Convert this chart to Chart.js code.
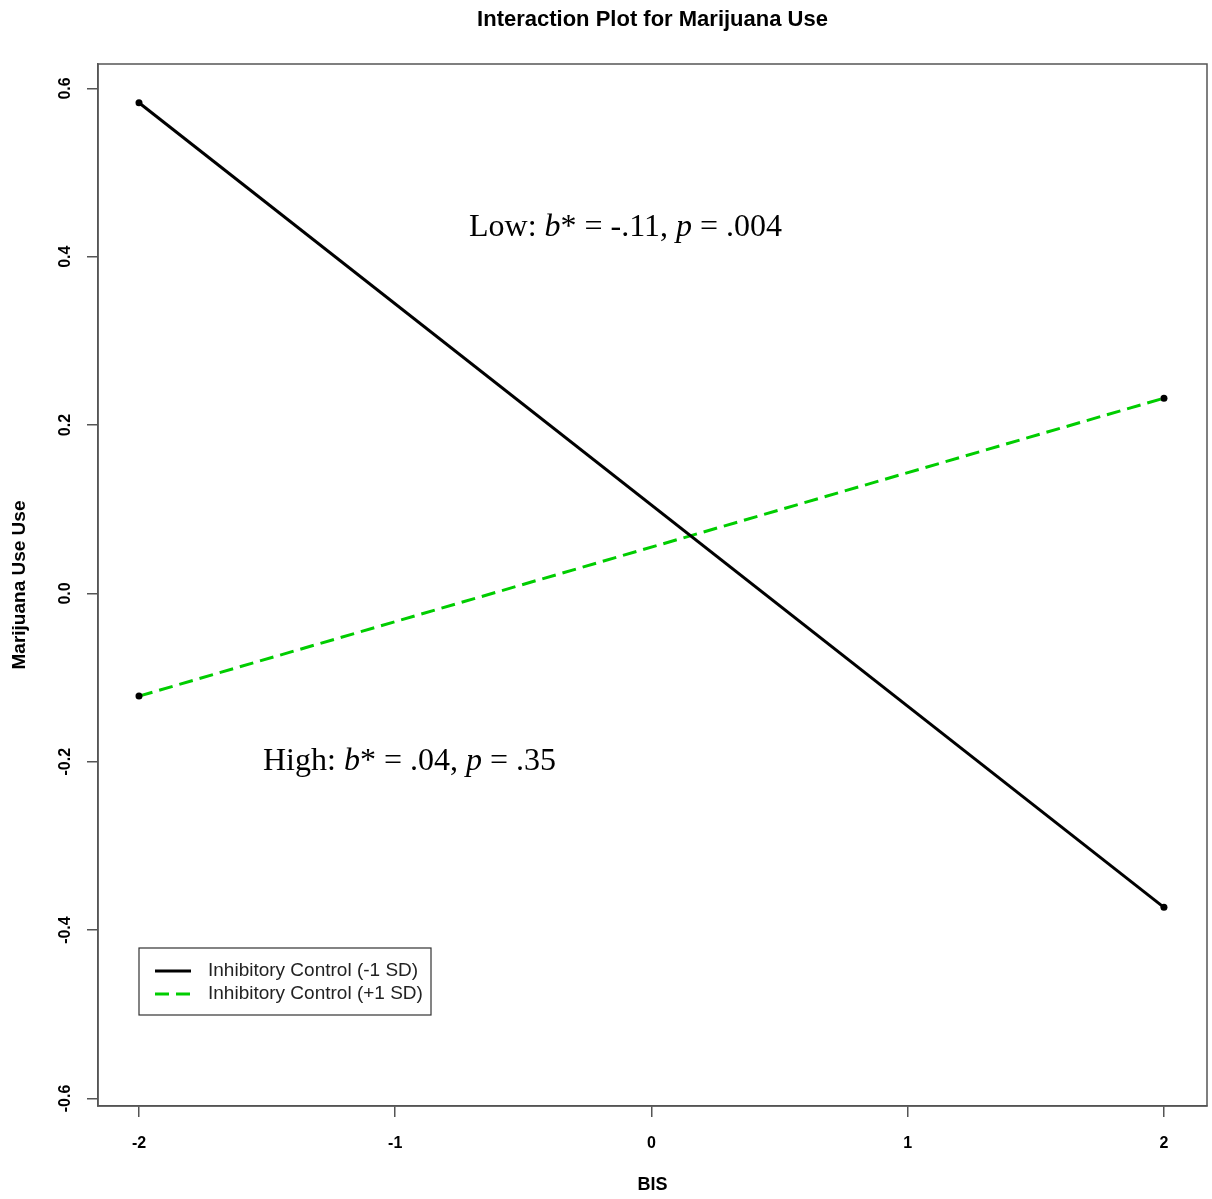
<!DOCTYPE html>
<html>
<head>
<meta charset="utf-8">
<script src="https://cdn.jsdelivr.net/npm/chart.js@4.4.0/dist/chart.umd.min.js"></script>
<style>
html,body{margin:0;padding:0;background:#fff;}
#wrap{width:1212px;height:1199px;position:relative;}
</style>
</head>
<body>
<div id="wrap"><canvas id="c" width="1212" height="1199"></canvas></div>
<script>
// ---- data ----
const bisValues = [-2, 2];
const lowIC = [0.583, -0.373];   // Inhibitory Control (-1 SD)
const highIC = [-0.122, 0.232];  // Inhibitory Control (+1 SD)
const xTicks = [-2, -1, 0, 1, 2];
const yTicks = [-0.6, -0.4, -0.2, 0.0, 0.2, 0.4, 0.6];
const yTickLabels = ['-0.6', '-0.4', '-0.2', '0.0', '0.2', '0.4', '0.6'];
const seriesNames = ['Inhibitory Control (-1 SD)', 'Inhibitory Control (+1 SD)'];
const titleText = 'Interaction Plot for Marijuana Use';
const xTitle = 'BIS';
const yTitle = 'Marijuana Use Use';

const SANS = '"Liberation Sans", Arial, Helvetica, sans-serif';
const SERIF = '"Liberation Serif", "Times New Roman", serif';
const AXIS_COLOR = '#555';

const extras = {
  id: 'extras',
  afterDraw(chart) {
    const ctx = chart.ctx;
    const a = chart.chartArea;
    const ys = chart.scales.y;
    ctx.save();
    // box
    ctx.strokeStyle = AXIS_COLOR;
    ctx.lineWidth = 1.5;
    ctx.strokeRect(a.left, a.top, a.right - a.left, a.bottom - a.top);
    // title
    ctx.fillStyle = '#000';
    ctx.font = 'bold 22px ' + SANS;
    ctx.textAlign = 'center';
    ctx.textBaseline = 'middle';
    ctx.fillText(titleText, (a.left + a.right) / 2, 20);
    // x title
    ctx.font = 'bold 18px ' + SANS;
    ctx.fillText(xTitle, (a.left + a.right) / 2, 1185);
    // y title
    ctx.save();
    ctx.translate(20, (a.top + a.bottom) / 2);
    ctx.rotate(-Math.PI / 2);
    ctx.font = 'bold 19px ' + SANS;
    ctx.fillText(yTitle, 0, 0);
    ctx.restore();
    // y tick labels rotated
    ctx.font = 'bold 16px ' + SANS;
    yTicks.forEach((v, i) => {
      const py = ys.getPixelForValue(v);
      ctx.save();
      ctx.translate(66, py);
      ctx.rotate(-Math.PI / 2);
      ctx.fillText(yTickLabels[i], 0, 0);
      ctx.restore();
    });
    // annotations
    function rich(parts, x, y) {
      let cx = x;
      parts.forEach(p => {
        ctx.font = (p[1] ? 'italic ' : '') + '32px ' + SERIF;
        ctx.textAlign = 'left';
        ctx.textBaseline = 'middle';
        ctx.fillText(p[0], cx, y);
        cx += ctx.measureText(p[0]).width;
      });
    }
    ctx.fillStyle = '#000';
    rich([['Low: ', 0], ['b', 1], ['* = -.11, ', 0], ['p', 1], [' = .004', 0]], 469, 228);
    rich([['High: ', 0], ['b', 1], ['* = .04, ', 0], ['p', 1], [' = .35', 0]], 263, 762);
    // legend
    const lx = 139, ly = 948, lw = 292, lh = 67;
    ctx.fillStyle = '#fff';
    ctx.fillRect(lx, ly, lw, lh);
    ctx.strokeStyle = '#333';
    ctx.lineWidth = 1.2;
    ctx.strokeRect(lx, ly, lw, lh);
    const ds = chart.data.datasets;
    [971, 994].forEach((yy, i) => {
      ctx.beginPath();
      ctx.strokeStyle = ds[i].borderColor;
      ctx.lineWidth = ds[i].borderWidth;
      ctx.setLineDash(ds[i].borderDash || []);
      ctx.moveTo(155, yy);
      ctx.lineTo(191, yy);
      ctx.stroke();
      ctx.setLineDash([]);
      ctx.fillStyle = '#222';
      ctx.font = '19px ' + SANS;
      ctx.textAlign = 'left';
      ctx.textBaseline = 'middle';
      ctx.fillText(seriesNames[i], 208, yy);
    });
    ctx.restore();
  }
};

new Chart(document.getElementById('c'), {
  type: 'line',
  data: {
    datasets: [
      {
        label: seriesNames[0],
        data: bisValues.map((x, i) => ({x: x, y: lowIC[i]})),
        borderColor: '#000',
        borderWidth: 3,
        pointRadius: 3.5,
        pointBackgroundColor: '#000',
        pointBorderColor: '#000',
        pointBorderWidth: 0
      },
      {
        label: seriesNames[1],
        data: bisValues.map((x, i) => ({x: x, y: highIC[i]})),
        borderColor: '#00CD00',
        borderWidth: 3,
        borderDash: [14, 7],
        pointRadius: 3.5,
        pointBackgroundColor: '#000',
        pointBorderColor: '#000',
        pointBorderWidth: 0
      }
    ]
  },
  options: {
    responsive: false,
    animation: false,
    layout: {padding: {top: 64, right: 5, left: 0, bottom: 0}},
    plugins: {legend: {display: false}, tooltip: {enabled: false}, title: {display: false}},
    scales: {
      x: {
        type: 'linear',
        min: -2.16, max: 2.168,
        afterBuildTicks: s => { s.ticks = xTicks.map(v => ({value: v})); },
        afterFit: s => { s.height = 93; },
        grid: {display: true, drawOnChartArea: false, drawTicks: true, tickLength: 11, color: AXIS_COLOR, lineWidth: 1.5},
        border: {display: true, color: AXIS_COLOR, width: 1.5},
        ticks: {
          color: '#000', font: {family: SANS, size: 16, weight: 'bold'}, padding: 17,
          maxRotation: 0, minRotation: 0,
          callback: v => String(v)
        }
      },
      y: {
        type: 'linear',
        min: -0.609, max: 0.629,
        afterBuildTicks: s => { s.ticks = yTicks.map(v => ({value: v})); },
        afterFit: s => { s.width = 98; },
        grid: {display: true, drawOnChartArea: false, drawTicks: true, tickLength: 11, color: AXIS_COLOR, lineWidth: 1.5},
        border: {display: true, color: AXIS_COLOR, width: 1.5},
        ticks: {display: false}
      }
    }
  },
  plugins: [extras]
});
</script>
</body>
</html>
